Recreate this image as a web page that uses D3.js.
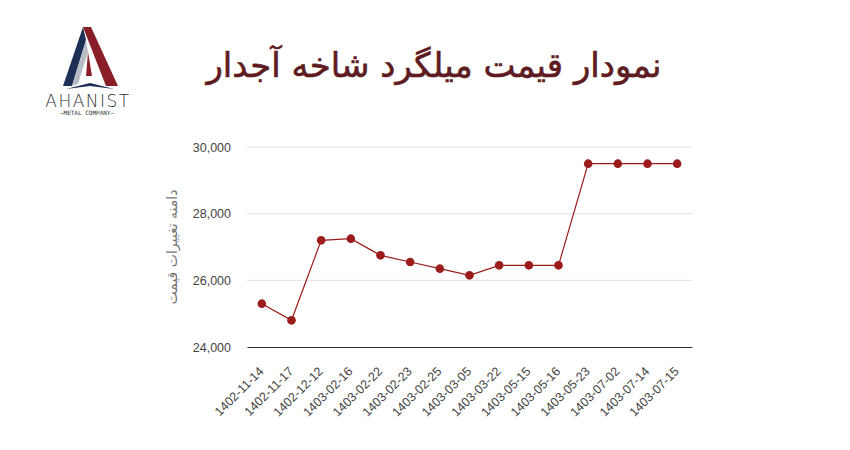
<!DOCTYPE html>
<html>
<head>
<meta charset="utf-8">
<script src="https://cdn.jsdelivr.net/npm/d3@7"></script>
<style>
  body { margin: 0; background: #fff; }
  svg { display: block; }
</style>
</head>
<body>
<svg id="chart" width="850" height="450"></svg>
<script>
// data
var dates = ["1402-11-14", "1402-11-17", "1402-12-12", "1403-02-16", "1403-02-22",
    "1403-02-23", "1403-02-25", "1403-03-05", "1403-03-22", "1403-05-15",
    "1403-05-16", "1403-05-23", "1403-07-02", "1403-07-14", "1403-07-15"];
var prices = [25300, 24800, 27200, 27250, 26750, 26550, 26350, 26150, 26450, 26450,
    26450, 29500, 29500, 29500, 29500];
var yTicks = [24000, 26000, 28000, 30000];

var titleText = "نمودار قیمت میلگرد شاخه آجدار";
var yTitle = "دامنه تغییرات قیمت";

const margin = {top: 147, right: 158, bottom: 103, left: 247};
const width = 850, height = 450;
const innerWidth = width - margin.left - margin.right;
const innerHeight = height - margin.top - margin.bottom;

var svg = d3.select("#chart");

// title
svg.append("text")
    .attr("x", 434)
    .attr("y", 77)
    .attr("text-anchor", "middle")
    .attr("direction", "rtl")
    .style("font-family", "'DejaVu Sans', sans-serif")
    .style("font-size", "34px")
    .style("fill", "#5e1b22")
    .style("stroke", "#5e1b22")
    .style("stroke-width", "0.6px")
    .text(titleText);

// logo
var logo = svg.append("g");
logo.append("path").attr("d", "M83,27 L63,86 L72,86 L86,40 Z").style("fill", "#1d2f55");
logo.append("path").attr("d", "M86,40 L72,86 L78,84 L88,52 Z").style("fill", "#b8bcc4");
logo.append("path").attr("d", "M83,27 L91,27 L118,86 L106,86 L88,40 Z").style("fill", "#8a1e28");
logo.append("path").attr("d", "M88,52 L92,76 L86,76 Z").style("fill", "#8a1e28");
logo.append("path").attr("d", "M66,89 L90,83 L114,89 L90,86 Z").style("fill", "#1d2f55");
logo.append("text")
    .attr("x", 88).attr("y", 107)
    .attr("text-anchor", "middle")
    .style("font-family", "'DejaVu Sans', sans-serif")
    .style("font-size", "17px")
    .style("font-weight", "200")
    .style("letter-spacing", "1.5px")
    .style("fill", "#333")
    .text("AHANIST");
logo.append("text")
    .attr("x", 87).attr("y", 115)
    .attr("text-anchor", "middle")
    .style("font-family", "'DejaVu Sans Mono', monospace")
    .style("font-size", "6px")
    .style("fill", "#333")
    .text("—METAL COMPANY—");

var g = svg.append("g")
    .attr("transform", `translate(${margin.left},${margin.top})`);

var xScale = d3.scalePoint()
    .domain(dates)
    .range([0, innerWidth])
    .padding(0.5);

var yScale = d3.scaleLinear()
    .domain([24000, 30000])
    .range([innerHeight, 0]);

// gridlines
g.append("g")
    .selectAll("line")
    .data(yTicks.slice(1))
    .enter()
    .append("line")
    .attr("x1", 0)
    .attr("x2", innerWidth)
    .attr("y1", d => yScale(d))
    .attr("y2", d => yScale(d))
    .style("stroke", "#e3e3e3")
    .style("stroke-width", "1px");

// y axis
var yAxis = d3.axisLeft(yScale)
    .tickValues(yTicks)
    .tickSize(0)
    .tickPadding(16)
    .tickFormat(d3.format(","));
var yG = g.append("g").call(yAxis);
yG.select(".domain").remove();
yG.selectAll("text")
    .style("font-family", "'Liberation Sans', Arial, sans-serif")
    .style("font-size", "12.5px")
    .style("fill", "#444");

// x axis
var xAxis = d3.axisBottom(xScale).tickSize(0);
var xG = g.append("g")
    .attr("transform", `translate(0,${innerHeight})`)
    .call(xAxis);
xG.select(".domain").style("stroke", "#333").style("stroke-width", "1.2px");
xG.selectAll("text")
    .style("font-family", "'Liberation Sans', Arial, sans-serif")
    .style("font-size", "12.5px")
    .style("fill", "#444")
    .style("text-anchor", "end")
    .attr("x", 0)
    .attr("y", 0)
    .attr("dy", "0.35em")
    .attr("transform", "translate(-1,22) rotate(-45)");

// y title
g.append("text")
    .attr("transform", `translate(${-70},${innerHeight / 2}) rotate(-90)`)
    .attr("text-anchor", "middle")
    .attr("direction", "rtl")
    .style("font-family", "'DejaVu Sans', sans-serif")
    .style("font-size", "14px")
    .style("fill", "#777")
    .text(yTitle);

// line
var line = d3.line()
    .x((d, i) => xScale(dates[i]))
    .y(d => yScale(d));

g.append("path")
    .datum(prices)
    .attr("d", line)
    .style("fill", "none")
    .style("stroke", "#9c1c1c")
    .style("stroke-width", "1.2px");

g.selectAll("circle")
    .data(prices)
    .enter()
    .append("circle")
    .attr("cx", (d, i) => xScale(dates[i]))
    .attr("cy", d => yScale(d))
    .attr("r", 4.3)
    .style("fill", "#9c1c1c");
</script>
</body>
</html>
